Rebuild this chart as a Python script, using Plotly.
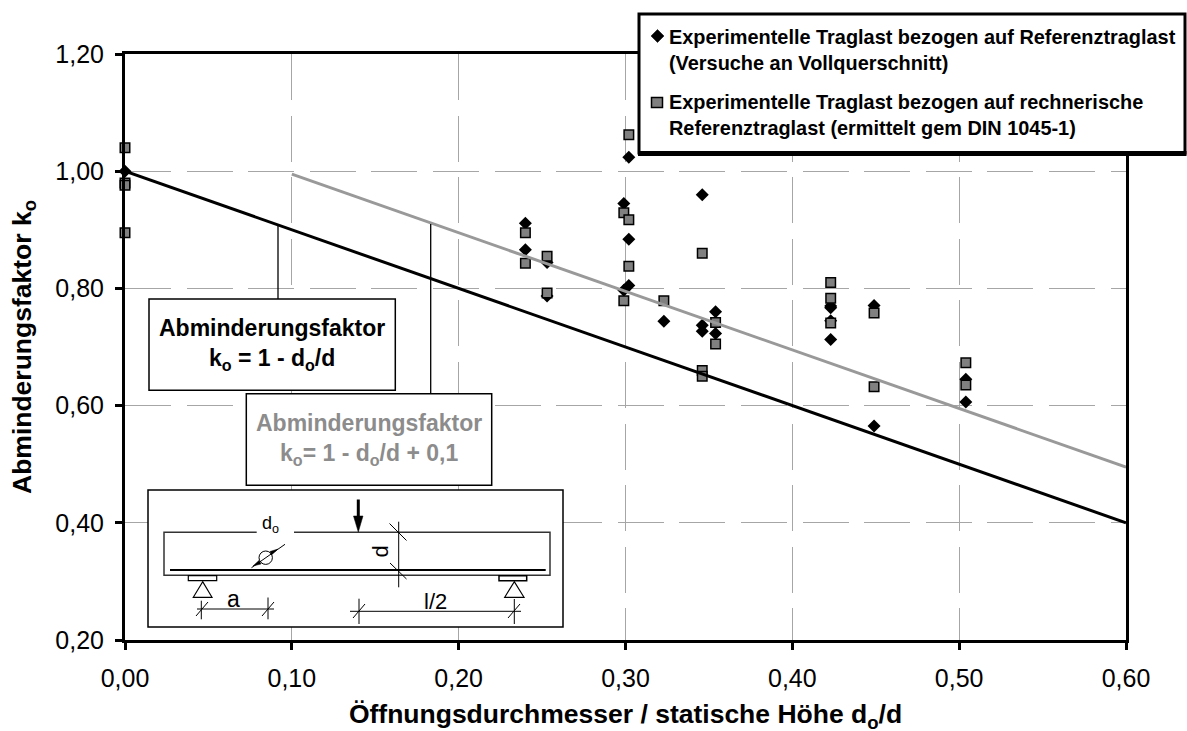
import plotly.graph_objects as go

# --- data ---
diamond_x = [0.0, 0.24, 0.24, 0.253, 0.253, 0.299, 0.299, 0.302, 0.302, 0.302, 0.323, 0.346, 0.346, 0.346,
             0.354, 0.354, 0.423, 0.423, 0.423, 0.423, 0.449, 0.449, 0.504, 0.504]
diamond_y = [1.0, 0.911, 0.866, 0.844, 0.787, 0.945, 0.797, 1.024, 0.884, 0.805, 0.744, 0.96, 0.737, 0.727,
             0.76, 0.723, 0.77, 0.767, 0.745, 0.713, 0.771, 0.565, 0.645, 0.606]
square_x = [0.0, 0.0, 0.0, 0.0, 0.24, 0.24, 0.253, 0.253, 0.299, 0.299, 0.302, 0.302, 0.302, 0.323,
            0.346, 0.346, 0.346, 0.354, 0.354, 0.423, 0.423, 0.423, 0.449, 0.449, 0.504, 0.504]
square_y = [1.04, 0.98, 0.976, 0.895, 0.895, 0.843, 0.855, 0.792, 0.929, 0.779, 1.062, 0.917, 0.838, 0.779,
            0.86, 0.66, 0.65, 0.742, 0.705, 0.81, 0.783, 0.741, 0.758, 0.632, 0.673, 0.635]
line1_x = [0.0, 0.6]
line1_y = [1.0, 0.4]
line2_x = [0.1, 0.6]
line2_y = [0.995, 0.495]
name1 = "Experimentelle Traglast bezogen auf Referenztraglast<br>(Versuche an Vollquerschnitt)"
name2 = "Experimentelle Traglast bezogen auf rechnerische<br>Referenztraglast (ermittelt gem DIN 1045-1)"

W, H = 1187, 750   # slightly taller than the window so the axis title may sit low; page overflow is hidden
L, R, T, B = 125, 1126, 54, 640   # plot area in page pixels
FONT = "Liberation Sans, Arial, sans-serif"


def X(p):
    return (p - L) / (R - L)


def Y(p):
    return (B - p) / (B - T)


shapes = []


def line(x0, y0, x1, y1, w=1.0, c="black"):
    shapes.append(dict(type="line", xref="paper", yref="paper", x0=X(x0), y0=Y(y0), x1=X(x1), y1=Y(y1),
                       line=dict(color=c, width=w)))


def rect(x0, y0, x1, y1, w=1.5, c="black", fill="white"):
    shapes.append(dict(type="rect", xref="paper", yref="paper", x0=X(x0), y0=Y(y0), x1=X(x1), y1=Y(y1),
                       line=dict(color=c, width=w), fillcolor=fill))


def poly(pts, fill="white", w=1.2):
    d = "M" + " L".join(f"{X(a):.5f},{Y(b):.5f}" for a, b in pts) + " Z"
    shapes.append(dict(type="path", xref="paper", yref="paper", path=d, fillcolor=fill,
                       line=dict(color="black", width=w)))


# connectors
line(278, 226, 278, 299, 1.3)
line(430.7, 224, 430.7, 394, 1.3)
# annotation boxes
rect(149, 299, 395.3, 390.3)
rect(246.3, 393.7, 491.7, 485.3)
rect(148, 490, 563, 627)
# beam
rect(164, 532.3, 550, 575.3, 1.5, "#333333")
line(256.7, 532.3, 294, 532.3, 3, "white")
line(170, 570, 545.7, 570, 2)
# load arrow
line(358.3, 499.5, 358.3, 522, 3)
poly([(353.5, 516), (363, 516), (358.3, 532)], "black", 0.5)
# supports
rect(188.3, 575.7, 216.7, 580.7, 1.2)
rect(499, 575.7, 526.7, 580.7, 1.5)
poly([(202.7, 581.7), (193.3, 597.3), (212, 597.3)])
poly([(514.3, 581.7), (504.7, 597.3), (524, 597.3)])
# dimension a
line(197, 609, 274, 609, 1)
line(201.3, 600.7, 201.3, 619.3, 1)
line(268, 597.5, 268, 619.3, 1)
line(196, 616, 208, 602, 1)
line(262, 616, 274, 602, 1)
# dimension l/2
line(350, 611.3, 521, 611.3, 1)
line(359, 598.7, 359, 624, 1)
line(514.3, 599, 514.3, 624, 1)
line(353, 618, 365, 604, 1)
line(508, 618, 520, 604, 1)
# dimension d
line(398.7, 521.7, 398.7, 587.3, 1)
line(389.5, 523.5, 406.5, 540.5, 1)
line(390, 563, 406.5, 579, 1)
# opening
shapes.append(dict(type="circle", xref="paper", yref="paper", x0=X(259), y0=Y(564.4), x1=X(272.4), y1=Y(551),
                   line=dict(color="black", width=1)))
line(251.5, 567.7, 285, 544.3, 1)
poly([(253, 566), (259, 560.5), (261, 564)], "black", 0.5)
poly([(278, 549), (271.5, 555), (270, 551.5)], "black", 0.5)
# legend frame and its symbols
rect(639, 14, 1185, 153, 3)
line(638, 153.5, 1186.5, 153.5, 5)
poly([(657.5, 29.5), (664, 36), (657.5, 42.5), (651, 36)], "black", 0.5)
rect(651.5, 97.5, 662.5, 107.5, 1.5, "black", "#808080")

ann = [
    dict(x=X(272), y=Y(344), text="<b>Abminderungsfaktor<br>k<sub>o</sub> = 1 - d<sub>o</sub>/d</b>",
         font=dict(size=23, color="black", family=FONT)),
    dict(x=X(369), y=Y(439), text="<b>Abminderungsfaktor<br>k<sub>o</sub>= 1 - d<sub>o</sub>/d + 0,1</b>",
         font=dict(size=23, color="#8c8c8c", family=FONT)),
    dict(x=X(270), y=Y(524), text="d<sub>o</sub>", font=dict(size=18, color="black", family=FONT)),
    dict(x=X(380.7), y=Y(551.7), text="d", textangle=-90, font=dict(size=22, color="black", family=FONT)),
    dict(x=X(233), y=Y(599), text="a", font=dict(size=23, color="black", family=FONT)),
    dict(x=X(435), y=Y(601), text="l/2", font=dict(size=22, color="black", family=FONT)),
    dict(x=X(667), y=Y(49.5), text=f"<b>{name1}</b>", xanchor="left", align="left",
         font=dict(size=19.9, color="black", family=FONT)),
    dict(x=X(667), y=Y(114.5), text=f"<b>{name2}</b>", xanchor="left", align="left",
         font=dict(size=19.9, color="black", family=FONT)),
]
for a in ann:
    a.setdefault("xanchor", "center")
    a.setdefault("align", "center")
    a.update(xref="paper", yref="paper", showarrow=False, yanchor="middle")

fig = go.Figure()
fig.add_trace(go.Scatter(x=diamond_x, y=diamond_y, mode="markers", showlegend=False, cliponaxis=False,
                         marker=dict(symbol="diamond", size=10, color="black")))
fig.add_trace(go.Scatter(x=square_x, y=square_y, mode="markers", showlegend=False, cliponaxis=False,
                         marker=dict(symbol="square", size=9.5, color="#808080", line=dict(color="black", width=1.5))))
fig.add_trace(go.Scatter(x=line1_x, y=line1_y, mode="lines", showlegend=False, cliponaxis=False,
                         line=dict(color="black", width=3)))
fig.add_trace(go.Scatter(x=line2_x, y=line2_y, mode="lines", showlegend=False, cliponaxis=False,
                         line=dict(color="#999999", width=3)))

axis_common = dict(showline=True, linecolor="black", linewidth=3, mirror=True, ticks="outside", ticklen=7,
                   tickwidth=3, tickcolor="black", showgrid=True, gridcolor="#a6a6a6", gridwidth=1,
                   griddash="46px,15.6px", tickformat=".2f", zeroline=False,
                   tickfont=dict(size=25, color="black", family=FONT))

fig.update_layout(
    width=W, height=H, margin=dict(l=L, r=W - R, t=T, b=H - B, autoexpand=False),
    paper_bgcolor="white", plot_bgcolor="white", separators=",.",
    shapes=shapes, annotations=ann, showlegend=False,
    xaxis=dict(range=[0, 0.6], dtick=0.1, tick0=0, ticklabelstandoff=7,
               title=dict(text="<b>Öffnungsdurchmesser / statische Höhe d<sub>o</sub>/d</b>", standoff=14,
                          font=dict(size=26.5, color="black", family=FONT)), **axis_common),
    yaxis=dict(range=[0.2, 1.2], dtick=0.2, tick0=0.2, ticklabelstandoff=6,
               title=dict(text="<b>Abminderungsfaktor k<sub>o</sub></b>", standoff=17,
                          font=dict(size=26.5, color="black", family=FONT)), **axis_common),
)
fig.write_html("out.html", config={"displayModeBar": False},
               post_script="document.body.style.margin='0';document.documentElement.style.overflow='hidden';")
